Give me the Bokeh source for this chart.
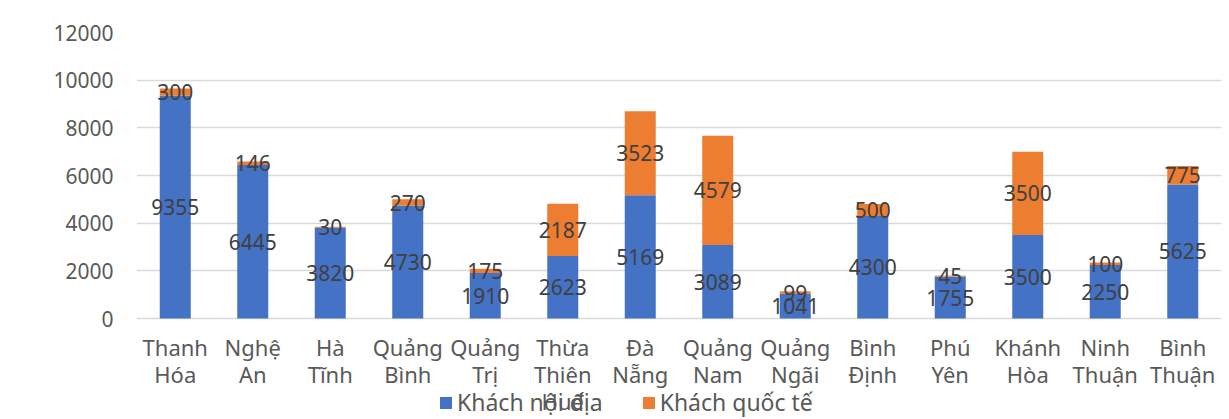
from bokeh.plotting import figure
from bokeh.models import ColumnDataSource, FixedTicker, Range1d
from bokeh.core.properties import value
from bokeh.embed import file_html
from bokeh.resources import INLINE

provinces = ["Thanh\nHóa", "Nghệ\nAn", "Hà\nTĩnh", "Quảng\nBình", "Quảng\nTrị",
             "Thừa\nThiên\nHuế", "Đà\nNẵng", "Quảng\nNam", "Quảng\nNgãi", "Bình\nĐịnh",
             "Phú\nYên", "Khánh\nHòa", "Ninh\nThuận", "Bình\nThuận"]
domestic = [9355, 6445, 3820, 4730, 1910, 2623, 5169, 3089, 1041, 4300, 1755, 3500, 2250, 5625]
international = [300, 146, 30, 270, 175, 2187, 3523, 4579, 99, 500, 45, 3500, 100, 775]
y_ticks = [0, 2000, 4000, 6000, 8000, 10000, 12000]

BLUE = "#4472C4"
ORANGE = "#ED7D31"
FONT = "Noto Sans"

W, H = 1229, 419
LEFT, RIGHT, TOP = 136, 8, 32
ZERO_PX = 318  # pixel row of the zero line
y_max = 12000
px_per_unit = (ZERO_PX - TOP) / y_max
y_min = -(H - ZERO_PX) / px_per_unit  # room under zero for the category labels and legend

xs = list(range(len(provinces)))
src = ColumnDataSource(dict(
    x=xs,
    zero=[0] * len(xs),
    name=provinces,
    dom=domestic,
    intl=international,
    dom_mid=[d / 2 for d in domestic],
    intl_mid=[d + i / 2 for d, i in zip(domestic, international)],
    dom_txt=[str(v) for v in domestic],
    intl_txt=[str(v) for v in international],
))

p = figure(width=W, height=H, output_backend="svg", toolbar_location=None,
           x_range=Range1d(-0.5, len(provinces) - 0.5), y_range=Range1d(y_min, y_max),
           min_border_left=LEFT, min_border_right=RIGHT, min_border_top=TOP, min_border_bottom=0)
p.outline_line_color = None
p.xaxis.visible = False

p.vbar_stack(["dom", "intl"], x="x", width=0.4, source=src, color=[BLUE, ORANGE],
             line_color=None, legend_label=["Khách nội địa", "Khách quốc tế"])

p.text(x="x", y="dom_mid", text="dom_txt", source=src, text_align="center",
       text_baseline="middle", text_font=value(FONT), text_font_size="21px",
       text_color="#404040")
p.text(x="x", y="intl_mid", text="intl_txt", source=src, text_align="center",
       text_baseline="middle", text_font=value(FONT), text_font_size="21px",
       text_color="#404040")

# category labels under the zero line
p.text(x="x", y="zero", text="name", source=src, text_align="center",
       text_baseline="top", y_offset=13, text_font=value(FONT), text_font_size="22px",
       text_color="#595959", text_line_height=0.9)

# y axis
p.yaxis.ticker = FixedTicker(ticks=y_ticks)
p.yaxis.axis_line_color = None
p.yaxis.major_tick_line_color = None
p.yaxis.minor_tick_line_color = None
p.yaxis.major_label_text_font = FONT
p.yaxis.major_label_text_font_size = "21px"
p.yaxis.major_label_text_color = "#595959"
p.yaxis.major_label_standoff = 17
p.ygrid.ticker = FixedTicker(ticks=y_ticks)
p.ygrid.grid_line_color = "#D9D9D9"
p.ygrid.grid_line_width = 1.5
p.xgrid.grid_line_color = None

# legend
lg = p.legend[0]
lg.orientation = "horizontal"
lg.location = (302, 1)
lg.border_line_color = None
lg.background_fill_alpha = 0
lg.padding = 0
lg.margin = 0
lg.spacing = 38
lg.glyph_width = 15
lg.glyph_height = 15
lg.label_standoff = 4
lg.label_text_font = FONT
lg.label_text_font_size = "23px"
lg.label_text_color = "#595959"

open("out.html", "w").write(file_html(p, INLINE))
